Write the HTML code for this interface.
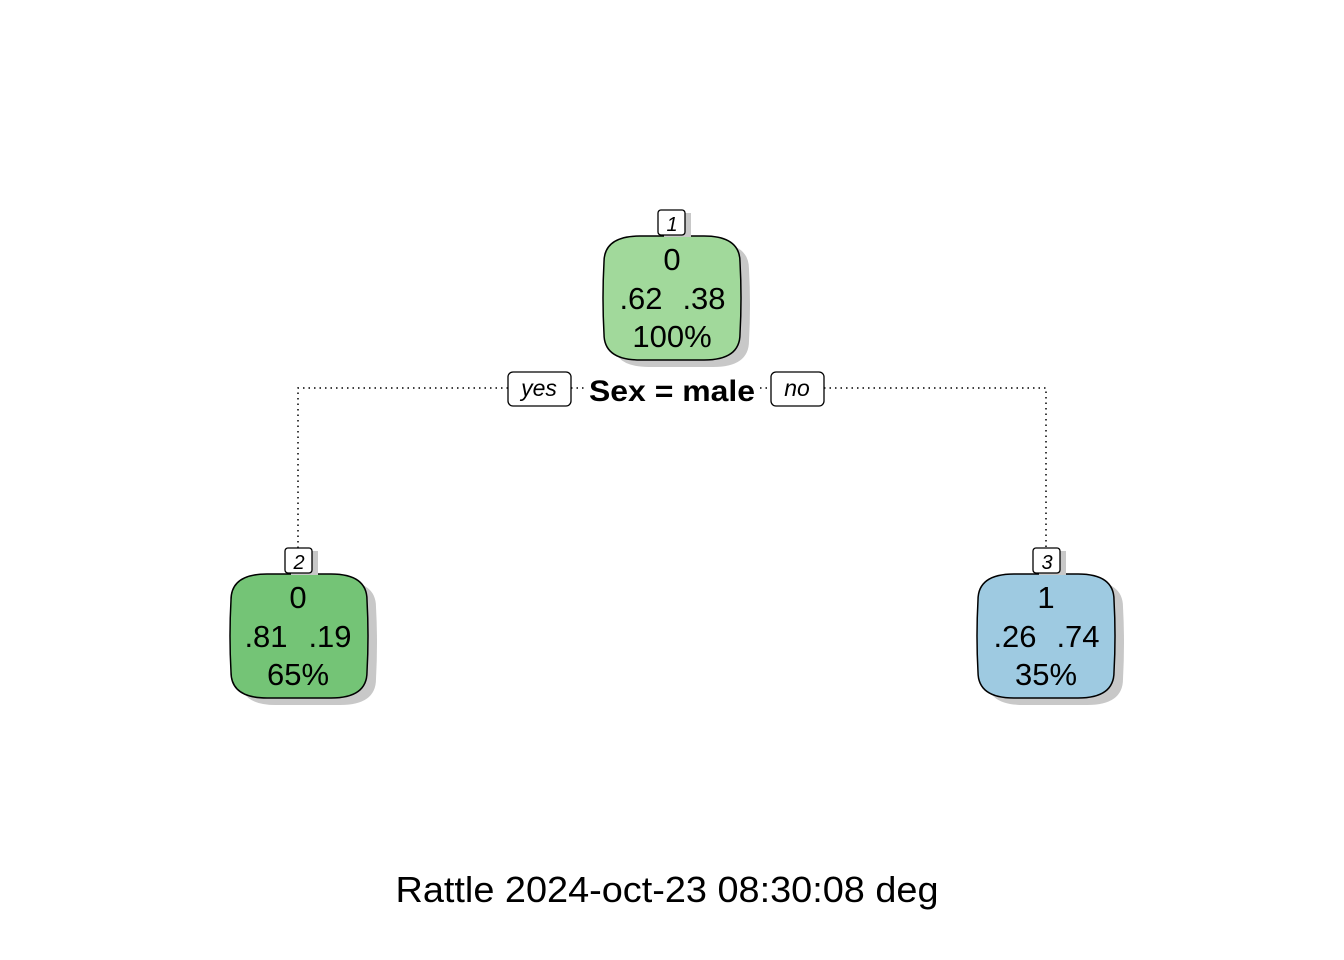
<!DOCTYPE html>
<html><head><meta charset="utf-8"><style>html,body{margin:0;padding:0;background:#fff}svg{display:block}</style></head>
<body>
<svg width="1344" height="960" viewBox="0 0 1344 960" xmlns="http://www.w3.org/2000/svg" font-family="Liberation Sans, sans-serif">
<defs>
<path id="nd" d="M0,26 Q0,0 36,0 L100,0 Q136,0 136,26 Q138,62 136,98 Q136,124 100,124 L36,124 Q0,124 0,98 Q-2,62 0,26 Z"/>
</defs>
<g stroke="#000" stroke-width="1.5" stroke-dasharray="1.5,4" fill="none">
<path d="M298,548 L298,388 L508,388"/>
<path d="M571,388 L584,388"/>
<path d="M760,388 L771,388"/>
<path d="M824,388 L1046,388 L1046,548"/>
</g>
<g transform="translate(604,236)">
<use href="#nd" fill="#c8c8c8" transform="translate(9,7)"/>
<use href="#nd" fill="#a1d99b" stroke="#000" stroke-width="1.5"/>
</g>
<rect x="664" y="213" width="27" height="24" fill="#c8c8c8"/>
<rect x="658" y="210" width="27" height="25" rx="3" fill="#fff" stroke="#000" stroke-width="1.3"/>
<text x="672" y="231" font-size="20" font-style="italic" text-anchor="middle">1</text>
<g font-size="31" text-anchor="middle">
<text x="672" y="270">0</text>
<text x="641" y="309">.62</text>
<text x="704" y="309">.38</text>
<text x="672" y="347">100%</text>
</g>
<g transform="translate(231,574)">
<use href="#nd" fill="#c8c8c8" transform="translate(9,7)"/>
<use href="#nd" fill="#74c476" stroke="#000" stroke-width="1.5"/>
</g>
<rect x="291" y="551" width="27" height="24" fill="#c8c8c8"/>
<rect x="285" y="548" width="27" height="25" rx="3" fill="#fff" stroke="#000" stroke-width="1.3"/>
<text x="299" y="569" font-size="20" font-style="italic" text-anchor="middle">2</text>
<g font-size="31" text-anchor="middle">
<text x="298" y="608">0</text>
<text x="266" y="647">.81</text>
<text x="330" y="647">.19</text>
<text x="298" y="685">65%</text>
</g>
<g transform="translate(978,574)">
<use href="#nd" fill="#c8c8c8" transform="translate(9,7)"/>
<use href="#nd" fill="#9ecae1" stroke="#000" stroke-width="1.5"/>
</g>
<rect x="1039" y="551" width="27" height="24" fill="#c8c8c8"/>
<rect x="1033" y="548" width="27" height="25" rx="3" fill="#fff" stroke="#000" stroke-width="1.3"/>
<text x="1047" y="569" font-size="20" font-style="italic" text-anchor="middle">3</text>
<g font-size="31" text-anchor="middle">
<text x="1046" y="608">1</text>
<text x="1015" y="647">.26</text>
<text x="1078" y="647">.74</text>
<text x="1046" y="685">35%</text>
</g>
<rect x="508" y="372" width="63" height="34" rx="5" fill="#fff" stroke="#000" stroke-width="1.3"/>
<text x="539" y="396" font-size="23" font-style="italic" text-anchor="middle">yes</text>
<rect x="771" y="372" width="53" height="34" rx="5" fill="#fff" stroke="#000" stroke-width="1.3"/>
<text x="797" y="396" font-size="23" font-style="italic" text-anchor="middle">no</text>
<text x="672" y="401" font-size="30" font-weight="bold" text-anchor="middle" textLength="166" lengthAdjust="spacingAndGlyphs">Sex = male</text>
<text x="667" y="902" font-size="36" text-anchor="middle" textLength="543" lengthAdjust="spacingAndGlyphs">Rattle 2024-oct-23 08:30:08 deg</text>
</svg>
</body></html>
